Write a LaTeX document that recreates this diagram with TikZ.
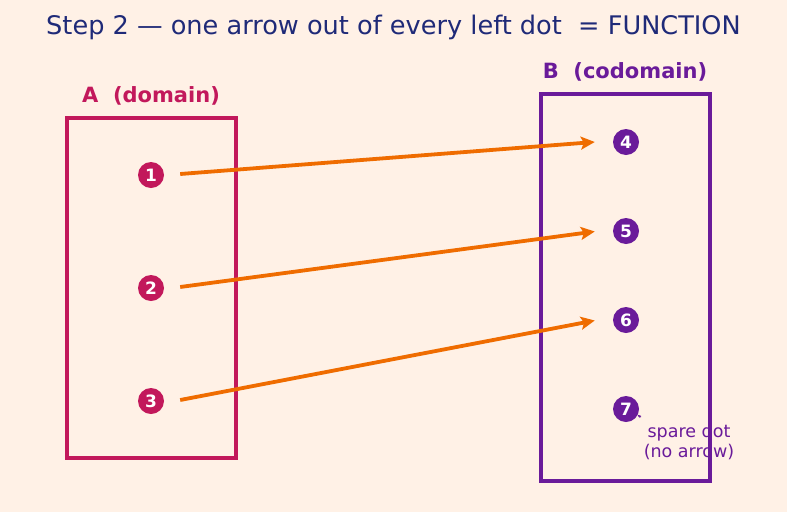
\documentclass[tikz,border=0pt]{standalone}
\usepackage{fontspec}
\setmainfont{DejaVu Sans}
\usetikzlibrary{arrows.meta}
\definecolor{bg}{HTML}{FFF1E6}
\definecolor{navy}{HTML}{1F2A78}
\definecolor{crim}{HTML}{C2185B}
\definecolor{purp}{HTML}{6A1B9A}
\definecolor{orng}{HTML}{EF6C00}
\begin{document}
\begin{tikzpicture}[x=1pt,y=-1pt,
  dotA/.style={circle,fill=crim,minimum size=26pt,inner sep=0pt,text=white,font=\fontsize{17}{17}\selectfont\bfseries},
  dotB/.style={circle,fill=purp,minimum size=26pt,inner sep=0pt,text=white,font=\fontsize{17}{17}\selectfont\bfseries},
  mapto/.style={draw=orng,line width=3.8pt,-{Stealth[length=14pt,width=13pt,inset=3pt]}},
  setbox/.style={line width=3.2pt,draw}]
\fill[bg] (0,0) rectangle (787,512);
\useasboundingbox (0,0) rectangle (787,512);
\node[text=navy,font=\fontsize{25.6}{26}\selectfont] (title) at (393.5,27.5) {Step 2 — one arrow out of every left dot\ \ = FUNCTION};
\node[text=crim,font=\fontsize{21}{21}\selectfont\bfseries] (labA) at (151,96) {A\ \ (domain)};
\node[text=purp,font=\fontsize{21}{21}\selectfont\bfseries] (labB) at (625,72) {B\ \ (codomain)};
\node[text=purp,font=\fontsize{17.5}{20}\selectfont,align=center] (spare) at (689,442) {spare dot\\(no arrow)};
\draw[setbox,crim] (67,118) rectangle (236,458);
\draw[setbox,purp] (541,94) rectangle (710,481);
\node[dotA] (a1) at (151,175) {1};
\node[dotA] (a2) at (151,288) {2};
\node[dotA] (a3) at (151,401) {3};
\node[dotB] (b4) at (626,142) {4};
\node[dotB] (b5) at (626,231) {5};
\node[dotB] (b6) at (626,320) {6};
\node[dotB] (b7) at (626,409) {7};
\draw[mapto] ([xshift=16pt,yshift=1pt]a1.east) -- ([xshift=-18pt]b4.west);
\draw[mapto] ([xshift=16pt,yshift=1pt]a2.east) -- ([xshift=-18pt,yshift=-0.5pt]b5.west);
\draw[mapto] ([xshift=16pt,yshift=1pt]a3.east) -- ([xshift=-18pt,yshift=-0.5pt]b6.west);
\coordinate (sp) at (641,417);
\draw[purp,line width=1pt,-{Stealth[length=3pt,width=3pt]}] (sp) -- (b7);
\end{tikzpicture}
\end{document}
